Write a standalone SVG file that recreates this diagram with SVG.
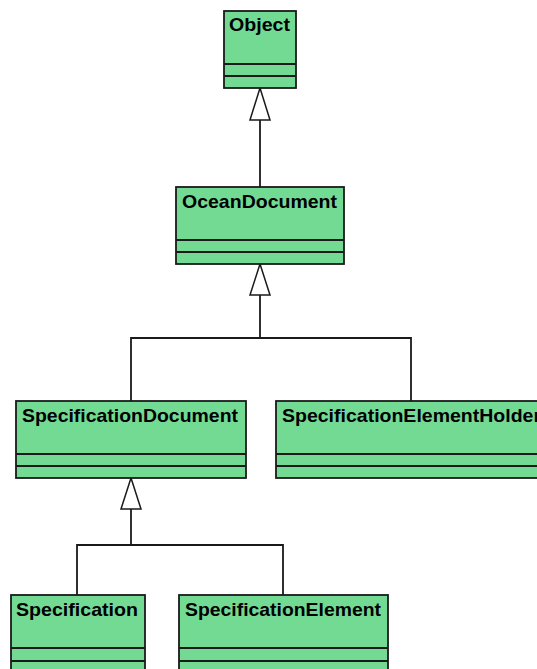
<svg xmlns="http://www.w3.org/2000/svg" width="537" height="669" viewBox="0 0 537 669">
<style>
.box{fill:#73DA94;stroke:#1a1a1a;stroke-width:1.8}
.sep{stroke:#1a1a1a;stroke-width:1.8;fill:none}
.lbl{font-family:"Liberation Sans",Arial,sans-serif;font-weight:bold;font-size:19px;fill:#000}
.conn{stroke:#1a1a1a;stroke-width:1.8;fill:none}
.tri{fill:#fff;stroke:#1a1a1a;stroke-width:1.5}
</style>
<rect width="537" height="669" fill="#fff"/>
<g id="connectors">
<line class="conn" x1="260" y1="120" x2="260" y2="187"/>
<polygon class="tri" points="260,88 250,120 270,120"/>
<polyline class="conn" points="260,295 260,338"/>
<polyline class="conn" points="131,401 131,338 411,338 411,401"/>
<polygon class="tri" points="260,264 250,295 270,295"/>
<polyline class="conn" points="131,509 131,545"/>
<polyline class="conn" points="77,595 77,545 283,545 283,595"/>
<polygon class="tri" points="131,478 121,509 141,509"/>
</g>
<g id="Object">
<rect class="box" x="224" y="11" width="72" height="77"/>
<line class="sep" x1="224" y1="64" x2="296" y2="64"/>
<line class="sep" x1="224" y1="76" x2="296" y2="76"/>
<text class="lbl" x="229" y="31" textLength="61" lengthAdjust="spacingAndGlyphs">Object</text>
</g>
<g id="OceanDocument">
<rect class="box" x="176" y="187" width="168" height="77"/>
<line class="sep" x1="176" y1="240" x2="344" y2="240"/>
<line class="sep" x1="176" y1="252" x2="344" y2="252"/>
<text class="lbl" x="182" y="208" textLength="155" lengthAdjust="spacingAndGlyphs">OceanDocument</text>
</g>
<g id="SpecificationDocument">
<rect class="box" x="16" y="401" width="230" height="77"/>
<line class="sep" x1="16" y1="454" x2="246" y2="454"/>
<line class="sep" x1="16" y1="466" x2="246" y2="466"/>
<text class="lbl" x="22" y="422" textLength="216" lengthAdjust="spacingAndGlyphs">SpecificationDocument</text>
</g>
<g id="SpecificationElementHolder">
<rect class="box" x="276" y="401" width="270" height="77"/>
<line class="sep" x1="276" y1="454" x2="546" y2="454"/>
<line class="sep" x1="276" y1="466" x2="546" y2="466"/>
<text class="lbl" x="282" y="422" textLength="259" lengthAdjust="spacingAndGlyphs">SpecificationElementHolder</text>
</g>
<g id="Specification">
<rect class="box" x="11" y="595" width="134" height="77"/>
<line class="sep" x1="11" y1="648" x2="145" y2="648"/>
<line class="sep" x1="11" y1="661" x2="145" y2="661"/>
<text class="lbl" x="16" y="616" textLength="122" lengthAdjust="spacingAndGlyphs">Specification</text>
</g>
<g id="SpecificationElement">
<rect class="box" x="179" y="595" width="209" height="77"/>
<line class="sep" x1="179" y1="648" x2="388" y2="648"/>
<line class="sep" x1="179" y1="661" x2="388" y2="661"/>
<text class="lbl" x="185" y="616" textLength="196" lengthAdjust="spacingAndGlyphs">SpecificationElement</text>
</g>
</svg>
